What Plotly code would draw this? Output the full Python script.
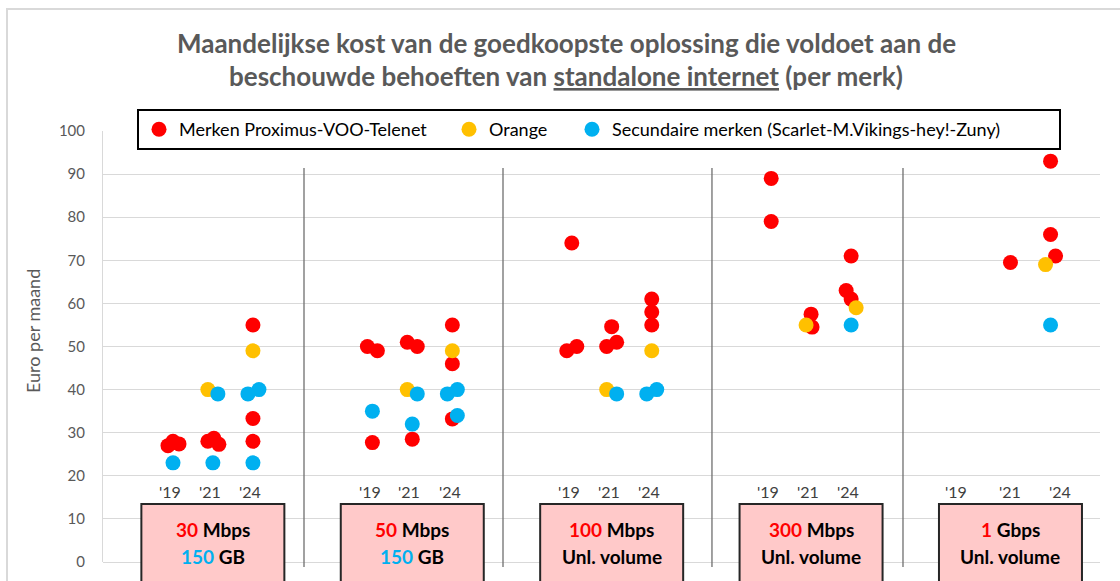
import plotly.graph_objects as go

# ---------------- data ----------------
groups = ["30 Mbps / 150 GB", "50 Mbps / 150 GB", "100 Mbps / Unl. volume",
          "300 Mbps / Unl. volume", "1 Gbps / Unl. volume"]
years = ["'19", "'21", "'24"]

box_num = ["30", "50", "100", "300", "1"]
box_unit = ["Mbps", "Mbps", "Mbps", "Mbps", "Gbps"]
box_vol_num = ["150", "150", "", "", ""]
box_vol_unit = ["GB", "GB", "Unl. volume", "Unl. volume", "Unl. volume"]

# series: group index, year index, value (euro/month), small horizontal offset (px)
red_group = [0, 0, 0, 0, 0, 0, 0, 0, 0,
             1, 1, 1, 1, 1, 1, 1, 1, 1,
             2, 2, 2, 2, 2, 2, 2, 2, 2,
             3, 3, 3, 3, 3, 3, 3,
             4, 4, 4, 4]
red_year = [0, 0, 0, 1, 1, 1, 2, 2, 2,
            0, 0, 0, 1, 1, 1, 2, 2, 2,
            0, 0, 0, 1, 1, 1, 2, 2, 2,
            0, 0, 1, 1, 2, 2, 2,
            1, 2, 2, 2]
red_value = [27, 28, 27.4, 28, 28.7, 27.3, 55, 33.3, 28,
             50, 49, 27.7, 51, 50, 28.5, 55, 46, 33.2,
             74, 49, 50, 54.6, 50, 51, 61, 58, 55,
             89, 79, 57.5, 54.5, 71, 63, 61,
             69.5, 93, 76, 71]
red_offset = [-5, 0, 6, -5, 1, 6, 0, 0, 0,
              -5, 5, 0, -5, 5, 0, 0, 0, 0,
              0, -5, 5, 0, -5, 5, 0, 0, 0,
              0, 0, 0, 1, 0, -5, 0,
              0, 0, 0, 5]

orange_group = [0, 0, 1, 1, 2, 2, 3, 3, 4]
orange_year = [1, 2, 1, 2, 1, 2, 1, 2, 2]
orange_value = [40, 49, 40, 49, 40, 49, 55, 59, 69]
orange_offset = [-5, 0, -5, 0, -5, 0, -5, 5, -5]

blue_group = [0, 0, 0, 0, 0, 0, 1, 1, 1, 1, 1, 1, 2, 2, 2, 3, 4]
blue_year = [0, 1, 1, 2, 2, 2, 0, 1, 1, 2, 2, 2, 1, 2, 2, 2, 2]
blue_value = [23, 39, 23, 39, 40, 23, 35, 39, 32, 39, 40, 34, 39, 39, 40, 55, 55]
blue_offset = [0, 5, 0, -5, 6, 0, 0, 5, 0, -5, 5, 5, 5, -5, 5, 0, 0]

series_names = ["Merken Proximus-VOO-Telenet", "Orange",
                "Secundaire merken (Scarlet-M.Vikings-hey!-Zuny)"]
series_colors = ["#FF0000", "#FFC000", "#00B0F0"]

# ---------------- geometry helpers ----------------
W, H = 1120, 581
ML, MR, MT, MB = 103, 20, 131, 19
PW = W - ML - MR
PH = H - MT - MB
PXU = PW / 5.0            # px per x-unit (one unit per group)
slot_pos = [0.351, 0.551, 0.752]


def xpos(g, yi, off):
    return [gg + slot_pos[y] + o / PXU for gg, y, o in zip(g, yi, off)]


def py(pix):
    return (H - MB - pix) / PH


def px(pix):
    return (pix - ML) / PW


fig = go.Figure()
series = [
    (red_group, red_year, red_value, red_offset),
    (orange_group, orange_year, orange_value, orange_offset),
    (blue_group, blue_year, blue_value, blue_offset),
]
legend_w = [265, 78, 442]
for (g, yi, v, o), name, col, lw in zip(series, series_names, series_colors, legend_w):
    fig.add_trace(go.Scatter(
        x=xpos(g, yi, o), y=v, mode="markers", name=name,
        marker=dict(color=col, size=15, line=dict(width=0)),
        legendwidth=lw, hoverinfo="y"))

shapes = []
annotations = []
FONT = "Lato"

# chart frame
shapes.append(dict(type="rect", xref="paper", yref="paper",
                   x0=px(7), x1=px(W + 10), y0=py(H + 10), y1=py(9),
                   line=dict(color="#D9D9D9", width=2), layer="below"))

# dividers between groups
div_x = [1.008, 2.006, 3.054, 4.012]
for dx in div_x:
    shapes.append(dict(type="line", xref="x", yref="paper", x0=dx, x1=dx,
                       y0=py(567), y1=py(168), line=dict(color="#6F6F6F", width=1.3)))

# year labels
for gi in range(len(groups)):
    lab_pos = [0.278, 0.549, 0.80] if gi == 4 else [p - 0.014 for p in slot_pos]
    for yi, yl in enumerate(years):
        annotations.append(dict(x=gi + lab_pos[yi], y=py(491), xref="x", yref="paper",
                                xanchor="center", yanchor="middle",
                                text=yl, showarrow=False,
                                font=dict(family=FONT, size=16, color="#404040")))

# spec boxes
half = 71.5 / PXU
for gi in range(len(groups)):
    cx = gi + slot_pos[1]
    shapes.append(dict(type="rect", xref="x", yref="paper", x0=cx - half, x1=cx + half,
                       y0=py(592), y1=py(504), fillcolor="#FFC9C9",
                       line=dict(color="#262626", width=2), layer="above"))
    line1 = f"<span style='color:#FF0000'>{box_num[gi]}</span> {box_unit[gi]}"
    if box_vol_num[gi]:
        line2 = f"<span style='color:#00B0F0'>{box_vol_num[gi]}</span> {box_vol_unit[gi]}"
    else:
        line2 = box_vol_unit[gi]
    annotations.append(dict(x=cx, y=py(529), xref="x", yref="paper",
                            xanchor="center", yanchor="middle",
                            text=f"<b>{line1}</b>", showarrow=False,
                            font=dict(family=FONT, size=19, color="#000000")))
    annotations.append(dict(x=cx, y=py(556), xref="x", yref="paper",
                            xanchor="center", yanchor="middle",
                            text=f"<b>{line2}</b>", showarrow=False,
                            font=dict(family=FONT, size=19, color="#000000")))

# y-axis title
annotations.append(dict(x=px(33), y=py(331), xref="paper", yref="paper",
                        xanchor="center", yanchor="middle",
                        text="Euro per maand", textangle=-90, showarrow=False,
                        font=dict(family=FONT, size=18, color="#595959")))

# title
annotations.append(dict(x=px(566), y=py(43), xref="paper", yref="paper",
                        xanchor="center", yanchor="middle",
                        text="<b>Maandelijkse kost van de goedkoopste oplossing die voldoet aan de</b>",
                        showarrow=False, font=dict(family=FONT, size=26, color="#595959")))
annotations.append(dict(x=px(566), y=py(76), xref="paper", yref="paper",
                        xanchor="center", yanchor="middle",
                        text="<b>beschouwde behoeften van <u>standalone internet</u> (per merk)</b>",
                        showarrow=False, font=dict(family=FONT, size=26, color="#595959")))

fig.update_layout(
    width=W, height=H,
    margin=dict(l=ML, r=MR, t=MT, b=MB),
    paper_bgcolor="white", plot_bgcolor="white",
    font=dict(family=FONT),
    showlegend=True,
    legend=dict(orientation="h", x=px(137), xanchor="left",
                y=py(109), yanchor="top",
                bordercolor="#000000", borderwidth=2, bgcolor="white",
                font=dict(family=FONT, size=18, color="#000000"),
                traceorder="normal"),
    xaxis=dict(range=[0, 5], showgrid=False, zeroline=False, showticklabels=False,
               showline=False, fixedrange=True),
    yaxis=dict(range=[0, 100], dtick=10, showgrid=True, gridcolor="#D9D9D9", gridwidth=1,
               zeroline=True, zerolinecolor="#D9D9D9", zerolinewidth=1,
               showline=True, linecolor="#D9D9D9", linewidth=1,
               ticks="outside", ticklen=0, ticklabelstandoff=14,
               tickfont=dict(family=FONT, size=15, color="#595959")),
    shapes=shapes, annotations=annotations,
)

fig.write_html("out.html", config={"displayModeBar": False},
               post_script="document.body.style.margin='0';document.body.style.overflow='hidden';")
